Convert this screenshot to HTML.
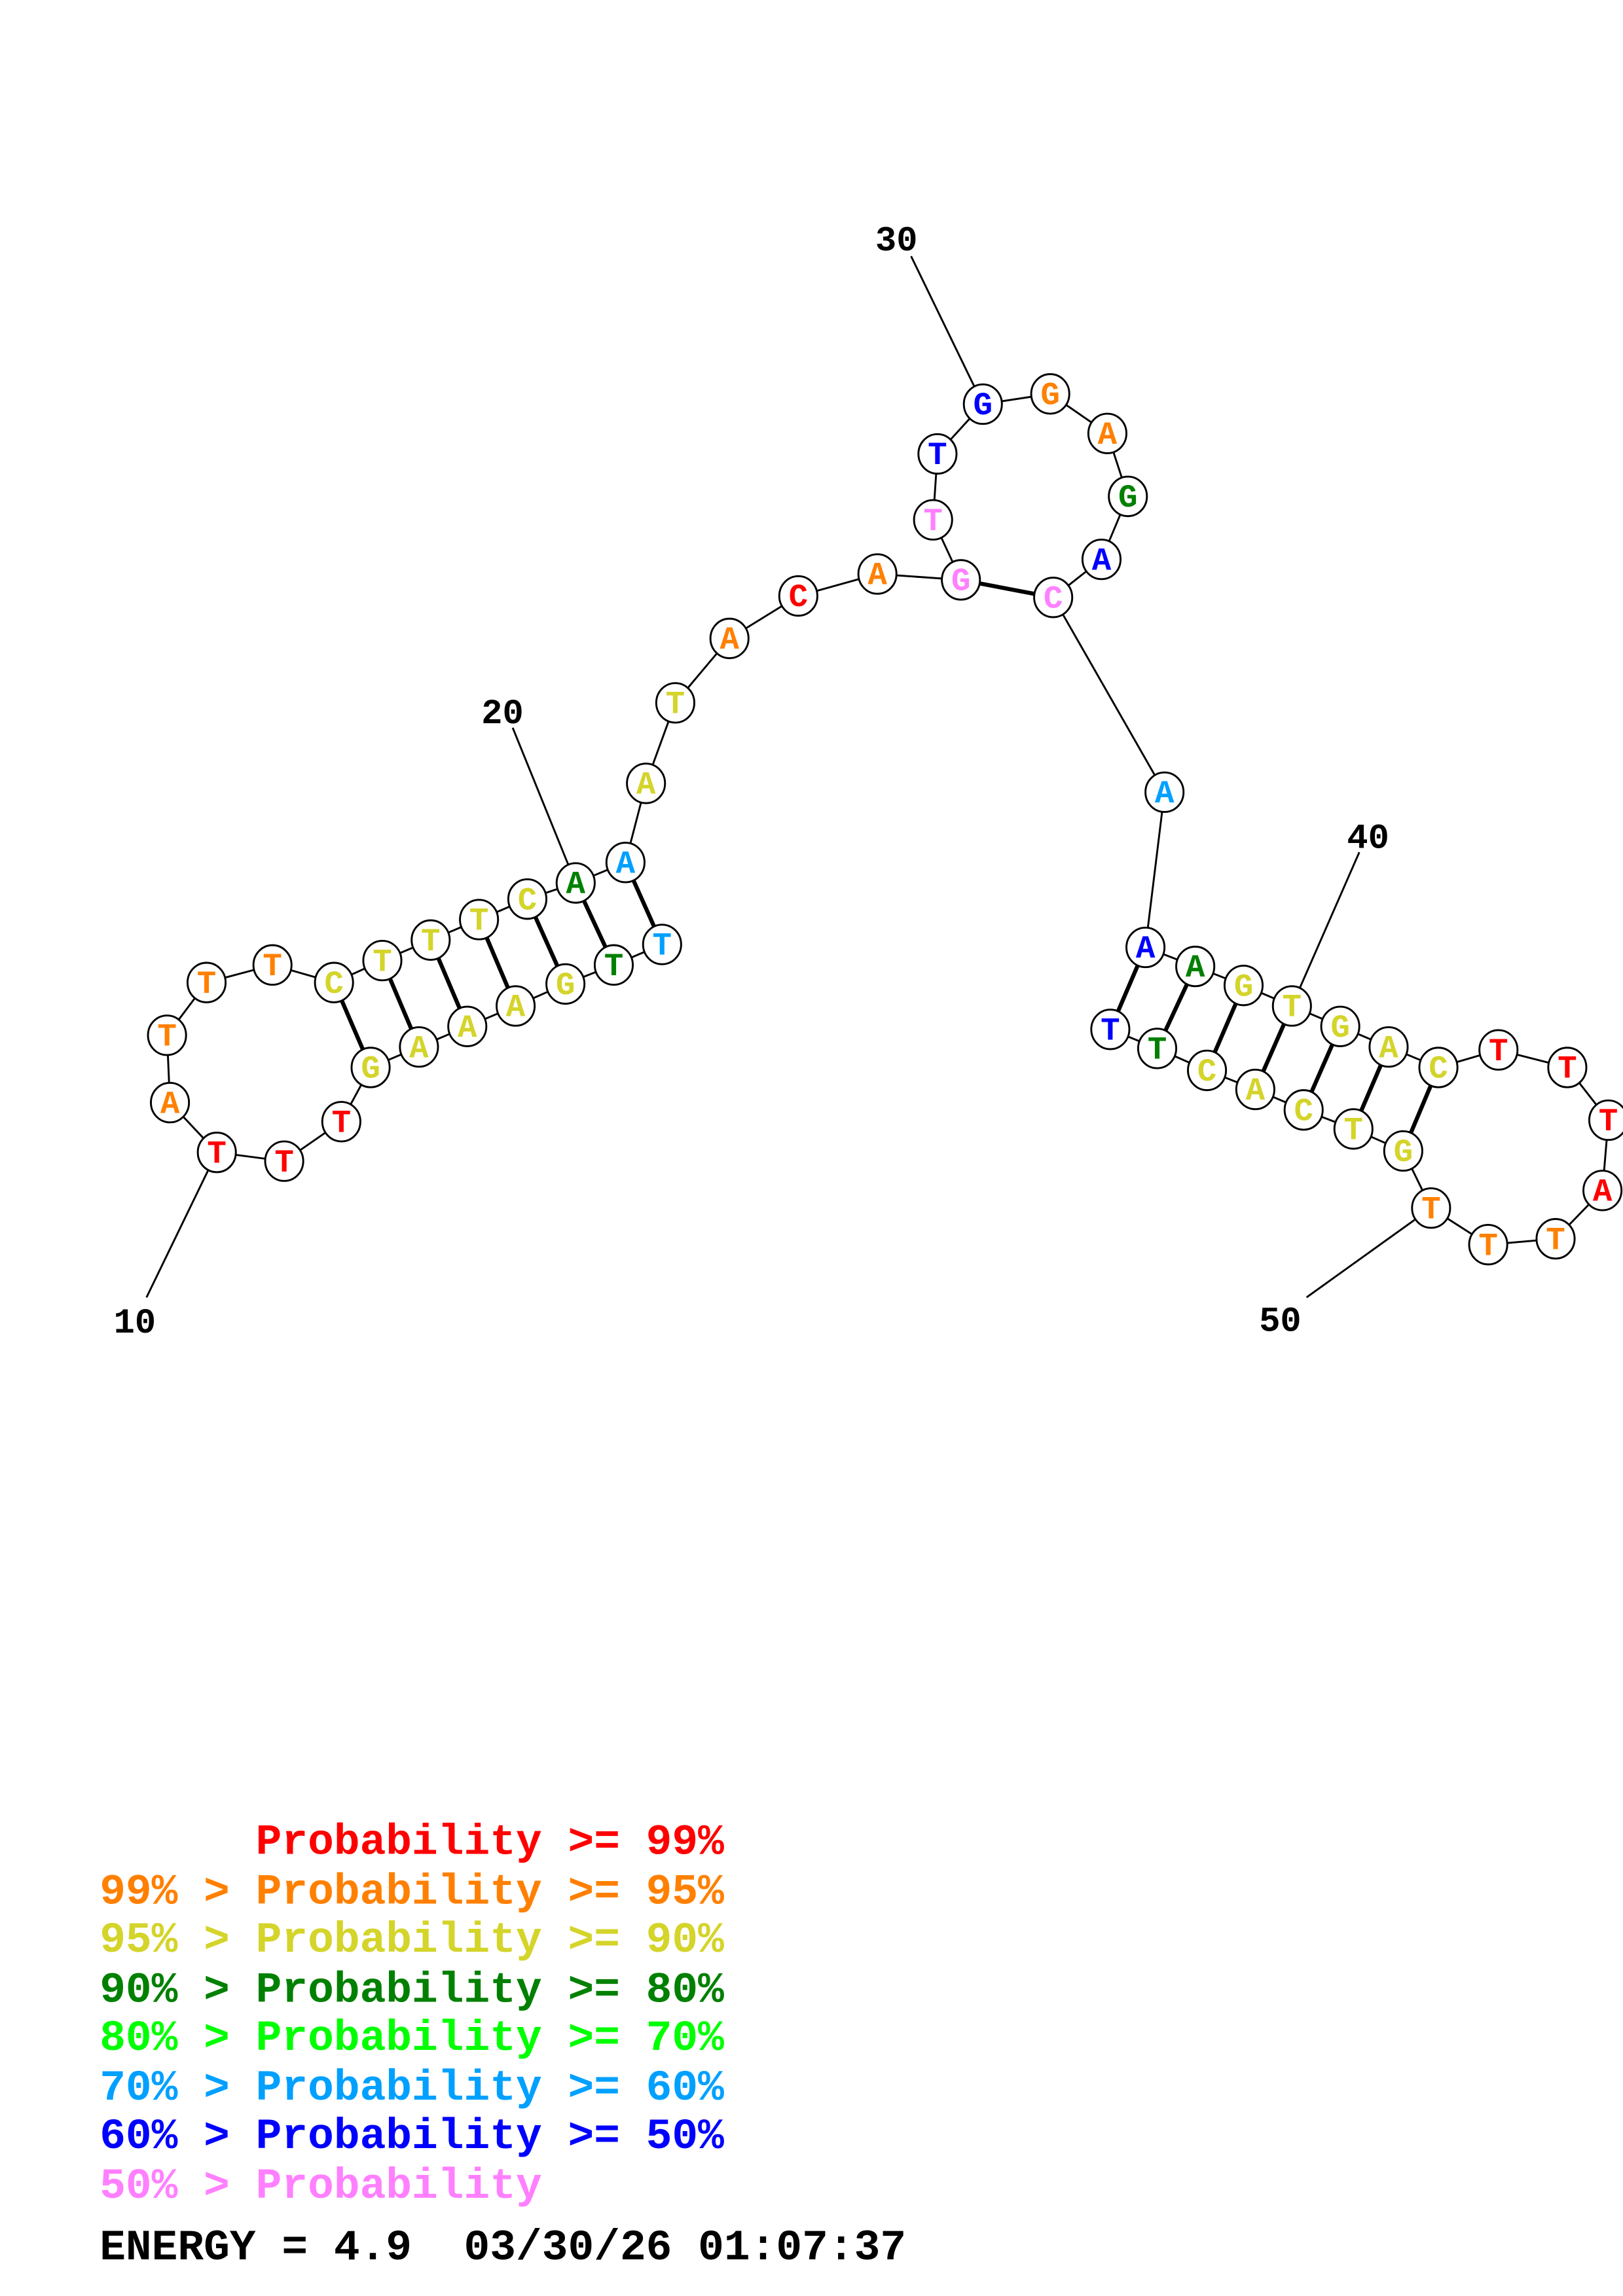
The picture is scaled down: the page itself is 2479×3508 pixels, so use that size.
<!DOCTYPE html>
<html><head><meta charset="utf-8"><style>html,body{margin:0;padding:0;background:#fff}svg{display:block}.pre{white-space:pre}</style></head>
<body>
<svg width="2479" height="3508" viewBox="0 0 1108 1568" xmlns="http://www.w3.org/2000/svg">
<rect width="1108" height="1568" fill="#fff"/>
<g stroke="#000" stroke-width="1.3" fill="none">
<polyline points="452,645 419,659 386,672 352,687 319,701 286,715 253,729 233,766 194,793 148,787 116,753 114,707 141,671 186,659 228,671 261,656 294,642 327,628 360,614 393,603 427,589 441,535 461,480 498,436 545,407 599,392 656,396 637,355 640,310 671,276 717,269 756,296 770,339 752,382 719,408 795,541 782,647 816,660 849,673 882,687 915,701 948,715 982,729 1023,717 1070,729 1098,765 1094,813 1062,846 1016,850 977,825 958,786 924,771 890,758 857,744 824,731 790,716 758,703"/>
<line x1="622" y1="175" x2="671" y2="276"/>
<line x1="350" y1="497" x2="393" y2="603"/>
<line x1="928" y1="582" x2="882" y2="687"/>
<line x1="100" y1="886" x2="148" y2="787"/>
<line x1="892" y1="886" x2="977" y2="825"/>
</g>
<g stroke="#000" stroke-width="2.8">
<line x1="228" y1="671" x2="253" y2="729"/>
<line x1="261" y1="656" x2="286" y2="715"/>
<line x1="294" y1="642" x2="319" y2="701"/>
<line x1="327" y1="628" x2="352" y2="687"/>
<line x1="360" y1="614" x2="386" y2="672"/>
<line x1="393" y1="603" x2="419" y2="659"/>
<line x1="427" y1="589" x2="452" y2="645"/>
<line x1="656" y1="396" x2="719" y2="408"/>
<line x1="782" y1="647" x2="758" y2="703"/>
<line x1="816" y1="660" x2="790" y2="716"/>
<line x1="849" y1="673" x2="824" y2="731"/>
<line x1="882" y1="687" x2="857" y2="744"/>
<line x1="915" y1="701" x2="890" y2="758"/>
<line x1="948" y1="715" x2="924" y2="771"/>
<line x1="982" y1="729" x2="958" y2="786"/>
</g>
<g font-family="'Liberation Mono',monospace" font-weight="bold" font-size="24" fill="#000" text-anchor="middle">
<text x="612" y="171">30</text>
<text x="343" y="494">20</text>
<text x="934" y="579">40</text>
<text x="92" y="910">10</text>
<text x="874" y="909">50</text>
</g>
<g font-family="'Liberation Mono',monospace" font-weight="bold" font-size="29.6">
<text class="pre" x="68" y="1266" fill="#ff0000">      Probability &gt;= 99%</text>
<text class="pre" x="68" y="1300" fill="#ff8000">99% &gt; Probability &gt;= 95%</text>
<text class="pre" x="68" y="1333" fill="#d4d42a">95% &gt; Probability &gt;= 90%</text>
<text class="pre" x="68" y="1367" fill="#008000">90% &gt; Probability &gt;= 80%</text>
<text class="pre" x="68" y="1400" fill="#00ff00">80% &gt; Probability &gt;= 70%</text>
<text class="pre" x="68" y="1434" fill="#00a0ff">70% &gt; Probability &gt;= 60%</text>
<text class="pre" x="68" y="1467" fill="#0000ff">60% &gt; Probability &gt;= 50%</text>
<text class="pre" x="68" y="1501" fill="#ff80ff">50% &gt; Probability</text>
<text class="pre" x="68" y="1543" fill="#000">ENERGY = 4.9  03/30/26 01:07:37</text>
</g>
<g font-family="'Liberation Mono',monospace" font-weight="bold" font-size="22" text-anchor="middle">
<g stroke="#000" stroke-width="1.3" fill="#fff">
<ellipse cx="452" cy="645" rx="13" ry="13.5"/><ellipse cx="419" cy="659" rx="13" ry="13.5"/><ellipse cx="386" cy="672" rx="13" ry="13.5"/><ellipse cx="352" cy="687" rx="13" ry="13.5"/><ellipse cx="319" cy="701" rx="13" ry="13.5"/><ellipse cx="286" cy="715" rx="13" ry="13.5"/><ellipse cx="253" cy="729" rx="13" ry="13.5"/><ellipse cx="233" cy="766" rx="13" ry="13.5"/><ellipse cx="194" cy="793" rx="13" ry="13.5"/><ellipse cx="148" cy="787" rx="13" ry="13.5"/><ellipse cx="116" cy="753" rx="13" ry="13.5"/><ellipse cx="114" cy="707" rx="13" ry="13.5"/><ellipse cx="141" cy="671" rx="13" ry="13.5"/><ellipse cx="186" cy="659" rx="13" ry="13.5"/><ellipse cx="228" cy="671" rx="13" ry="13.5"/><ellipse cx="261" cy="656" rx="13" ry="13.5"/><ellipse cx="294" cy="642" rx="13" ry="13.5"/><ellipse cx="327" cy="628" rx="13" ry="13.5"/><ellipse cx="360" cy="614" rx="13" ry="13.5"/><ellipse cx="393" cy="603" rx="13" ry="13.5"/><ellipse cx="427" cy="589" rx="13" ry="13.5"/><ellipse cx="441" cy="535" rx="13" ry="13.5"/><ellipse cx="461" cy="480" rx="13" ry="13.5"/><ellipse cx="498" cy="436" rx="13" ry="13.5"/><ellipse cx="545" cy="407" rx="13" ry="13.5"/><ellipse cx="599" cy="392" rx="13" ry="13.5"/><ellipse cx="656" cy="396" rx="13" ry="13.5"/><ellipse cx="637" cy="355" rx="13" ry="13.5"/><ellipse cx="640" cy="310" rx="13" ry="13.5"/><ellipse cx="671" cy="276" rx="13" ry="13.5"/><ellipse cx="717" cy="269" rx="13" ry="13.5"/><ellipse cx="756" cy="296" rx="13" ry="13.5"/><ellipse cx="770" cy="339" rx="13" ry="13.5"/><ellipse cx="752" cy="382" rx="13" ry="13.5"/><ellipse cx="719" cy="408" rx="13" ry="13.5"/><ellipse cx="795" cy="541" rx="13" ry="13.5"/><ellipse cx="782" cy="647" rx="13" ry="13.5"/><ellipse cx="816" cy="660" rx="13" ry="13.5"/><ellipse cx="849" cy="673" rx="13" ry="13.5"/><ellipse cx="882" cy="687" rx="13" ry="13.5"/><ellipse cx="915" cy="701" rx="13" ry="13.5"/><ellipse cx="948" cy="715" rx="13" ry="13.5"/><ellipse cx="982" cy="729" rx="13" ry="13.5"/><ellipse cx="1023" cy="717" rx="13" ry="13.5"/><ellipse cx="1070" cy="729" rx="13" ry="13.5"/><ellipse cx="1098" cy="765" rx="13" ry="13.5"/><ellipse cx="1094" cy="813" rx="13" ry="13.5"/><ellipse cx="1062" cy="846" rx="13" ry="13.5"/><ellipse cx="1016" cy="850" rx="13" ry="13.5"/><ellipse cx="977" cy="825" rx="13" ry="13.5"/><ellipse cx="958" cy="786" rx="13" ry="13.5"/><ellipse cx="924" cy="771" rx="13" ry="13.5"/><ellipse cx="890" cy="758" rx="13" ry="13.5"/><ellipse cx="857" cy="744" rx="13" ry="13.5"/><ellipse cx="824" cy="731" rx="13" ry="13.5"/><ellipse cx="790" cy="716" rx="13" ry="13.5"/><ellipse cx="758" cy="703" rx="13" ry="13.5"/>
</g>
<text x="452" y="652" fill="#00a0ff">T</text>
<text x="419" y="666" fill="#008000">T</text>
<text x="386" y="679" fill="#d4d42a">G</text>
<text x="352" y="694" fill="#d4d42a">A</text>
<text x="319" y="708" fill="#d4d42a">A</text>
<text x="286" y="722" fill="#d4d42a">A</text>
<text x="253" y="736" fill="#d4d42a">G</text>
<text x="233" y="773" fill="#ff0000">T</text>
<text x="194" y="800" fill="#ff0000">T</text>
<text x="148" y="794" fill="#ff0000">T</text>
<text x="116" y="760" fill="#ff8000">A</text>
<text x="114" y="714" fill="#ff8000">T</text>
<text x="141" y="678" fill="#ff8000">T</text>
<text x="186" y="666" fill="#ff8000">T</text>
<text x="228" y="678" fill="#d4d42a">C</text>
<text x="261" y="663" fill="#d4d42a">T</text>
<text x="294" y="649" fill="#d4d42a">T</text>
<text x="327" y="635" fill="#d4d42a">T</text>
<text x="360" y="621" fill="#d4d42a">C</text>
<text x="393" y="610" fill="#008000">A</text>
<text x="427" y="596" fill="#00a0ff">A</text>
<text x="441" y="542" fill="#d4d42a">A</text>
<text x="461" y="487" fill="#d4d42a">T</text>
<text x="498" y="443" fill="#ff8000">A</text>
<text x="545" y="414" fill="#ff0000">C</text>
<text x="599" y="399" fill="#ff8000">A</text>
<text x="656" y="403" fill="#ff80ff">G</text>
<text x="637" y="362" fill="#ff80ff">T</text>
<text x="640" y="317" fill="#0000ff">T</text>
<text x="671" y="283" fill="#0000ff">G</text>
<text x="717" y="276" fill="#ff8000">G</text>
<text x="756" y="303" fill="#ff8000">A</text>
<text x="770" y="346" fill="#008000">G</text>
<text x="752" y="389" fill="#0000ff">A</text>
<text x="719" y="415" fill="#ff80ff">C</text>
<text x="795" y="548" fill="#00a0ff">A</text>
<text x="782" y="654" fill="#0000ff">A</text>
<text x="816" y="667" fill="#008000">A</text>
<text x="849" y="680" fill="#d4d42a">G</text>
<text x="882" y="694" fill="#d4d42a">T</text>
<text x="915" y="708" fill="#d4d42a">G</text>
<text x="948" y="722" fill="#d4d42a">A</text>
<text x="982" y="736" fill="#d4d42a">C</text>
<text x="1023" y="724" fill="#ff0000">T</text>
<text x="1070" y="736" fill="#ff0000">T</text>
<text x="1098" y="772" fill="#ff0000">T</text>
<text x="1094" y="820" fill="#ff0000">A</text>
<text x="1062" y="853" fill="#ff8000">T</text>
<text x="1016" y="857" fill="#ff8000">T</text>
<text x="977" y="832" fill="#ff8000">T</text>
<text x="958" y="793" fill="#d4d42a">G</text>
<text x="924" y="778" fill="#d4d42a">T</text>
<text x="890" y="765" fill="#d4d42a">C</text>
<text x="857" y="751" fill="#d4d42a">A</text>
<text x="824" y="738" fill="#d4d42a">C</text>
<text x="790" y="723" fill="#008000">T</text>
<text x="758" y="710" fill="#0000ff">T</text>
</g>
</svg>
</body></html>
